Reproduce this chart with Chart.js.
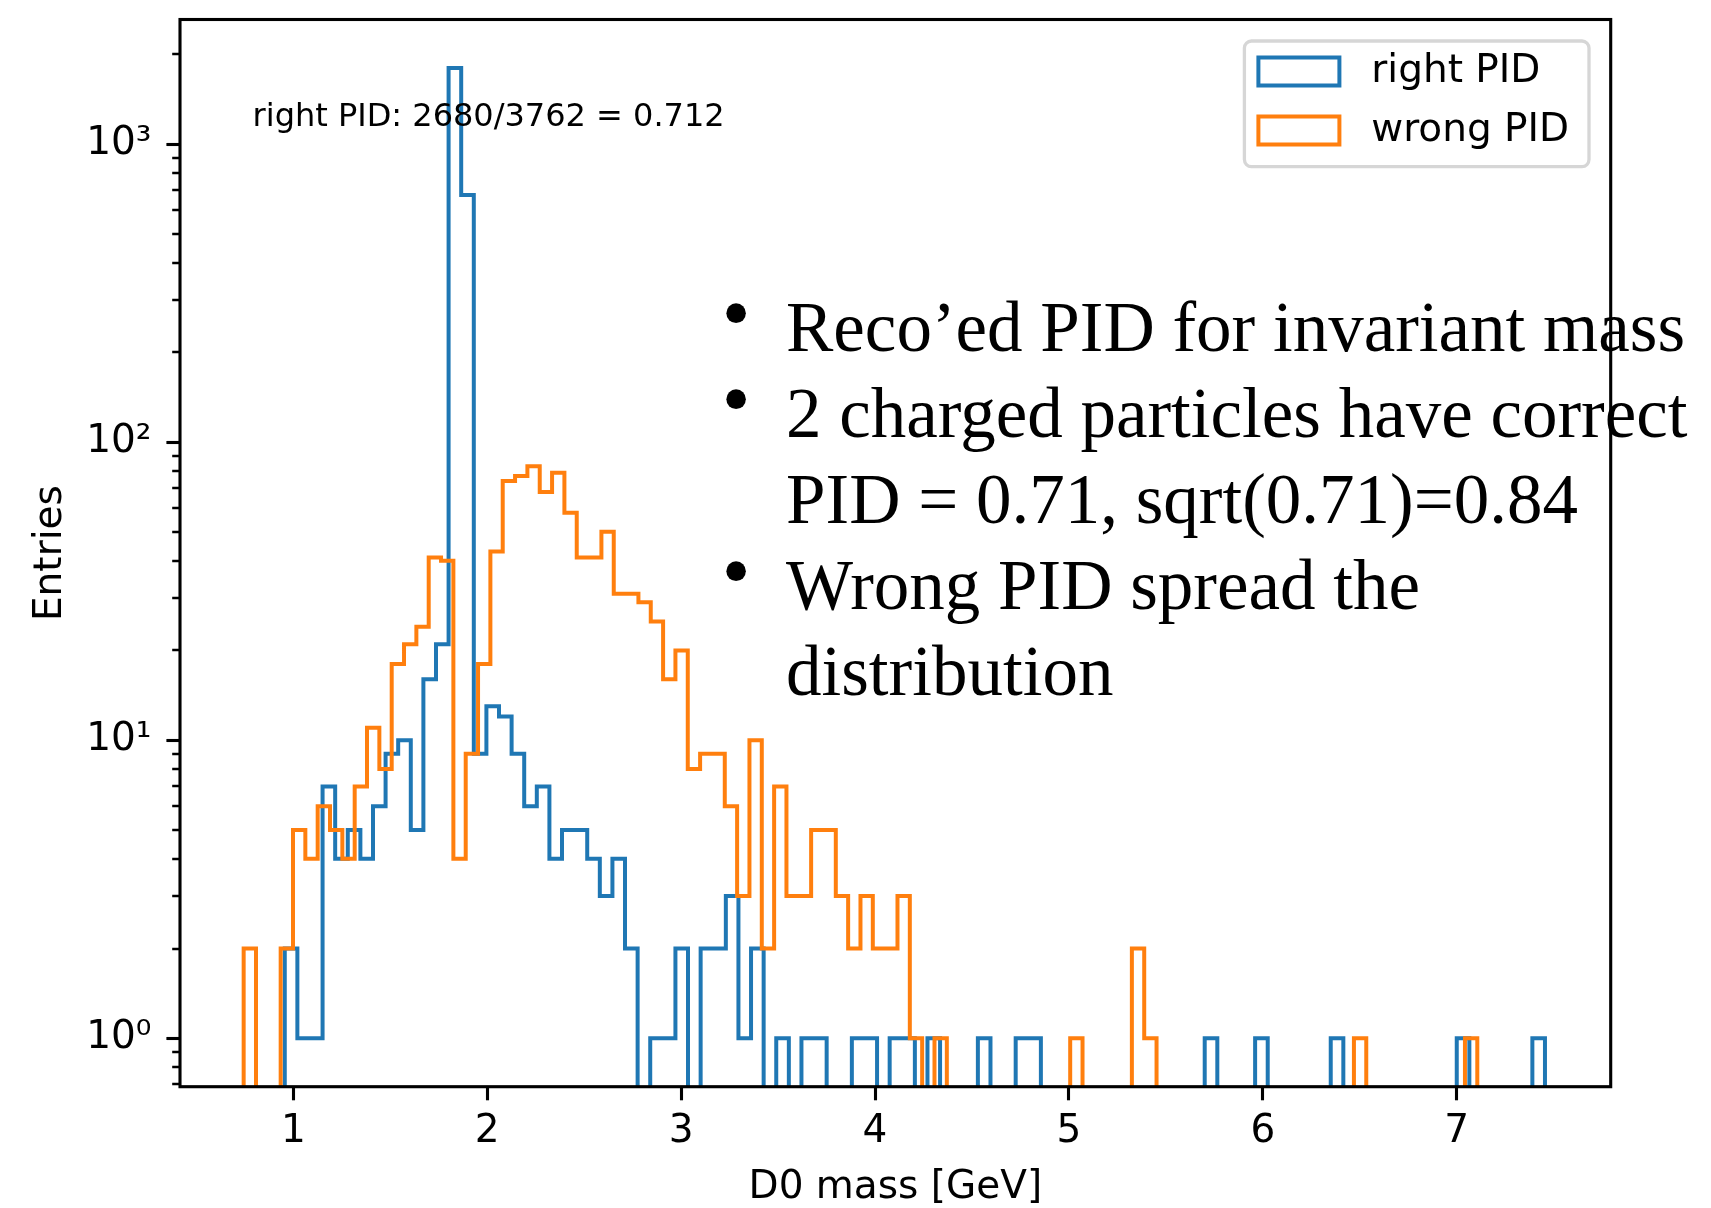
<!DOCTYPE html>
<html>
<head>
<meta charset="utf-8">
<title>D0 mass: right vs wrong PID</title>
<script src="https://cdn.jsdelivr.net/npm/chart.js@4.4.1/dist/chart.umd.min.js"></script>
<style>
  html, body { margin: 0; padding: 0; background: #fff; }
  #wrap { width: 1711px; height: 1208px; }
</style>
</head>
<body>
<div id="wrap"><canvas id="massChart" width="1711" height="1208"></canvas></div>
<script>
// D0 mass histograms (100 bins each), log y axis
const seriesLabels = ['right PID', 'wrong PID'];
const rightRange = [0.956, 7.455];   // first and last bin edge
const wrongRange = [0.744, 7.106];

const rightCounts = [
  2, 1, 1, 7, 4, 5, 4, 6, 9, 10,
  5, 16, 21, 1800, 675, 9, 13, 12, 9, 6,
  7, 4, 5, 5, 4, 3, 4, 2, 0, 1,
  1, 2, 0, 2, 2, 3, 1, 2, 0, 1,
  0, 1, 1, 0, 0, 1, 1, 0, 1, 1,
  0, 1, 0, 0, 0, 1, 0, 0, 1, 1,
  0, 0, 0, 0, 0, 0, 0, 0, 0, 0,
  0, 0, 0, 1, 0, 0, 0, 1, 0, 0,
  0, 0, 0, 1, 0, 0, 0, 0, 0, 0,
  0, 0, 0, 1, 0, 0, 0, 0, 0, 1
];
const wrongCounts = [
  2, 0, 0, 2, 5, 4, 6, 5, 4, 7,
  11, 8, 18, 21, 24, 41, 40, 4, 9, 18,
  43, 74, 77, 83, 68, 79, 58, 41, 41, 50,
  31, 31, 29, 25, 16, 20, 8, 9, 9, 6,
  3, 10, 2, 7, 3, 3, 5, 5, 3, 2,
  3, 2, 2, 3, 1, 0, 1, 0, 0, 0,
  0, 0, 0, 0, 0, 0, 0, 1, 0, 0,
  0, 0, 2, 1, 0, 0, 0, 0, 0, 0,
  0, 0, 0, 0, 0, 0, 0, 0, 0, 0,
  1, 0, 0, 0, 0, 0, 0, 0, 0, 1
];

const xTicks = [1, 2, 3, 4, 5, 6, 7];
const yTicks = [1, 10, 100, 1000];
const yTickLabels = ['10⁰', '10¹', '10²', '10³'];

const ratioText = 'right PID: 2680/3762 = 0.712';
const noteLines = [
  'Reco’ed PID for invariant mass',
  '2 charged particles have correct',
  'PID = 0.71, sqrt(0.71)=0.84',
  'Wrong PID spread the',
  'distribution'
];
const noteBullets = [true, true, false, true, false];

const EMPTY = 0.1; // empty bins: below the axis, so the outline drops to the floor

function stepPoints(range, counts) {
  const w = (range[1] - range[0]) / counts.length;
  const pts = [{x: range[0], y: EMPTY}];
  counts.forEach((c, i) => pts.push({x: range[0] + i * w, y: c > 0 ? c : EMPTY}));
  pts.push({x: range[1], y: EMPTY});
  return pts;
}

// legend frame, spines, minor ticks and the slide notes
const decorations = {
  id: 'decorations',
  afterLayout(chart) {
    const lg = chart.legend, a = chart.chartArea;
    if (!lg) return;
    lg.left = a.right - 372.3; lg.right = lg.left + lg.width;
    lg.top = a.top + 12.5; lg.bottom = lg.top + lg.height;
  },
  beforeDraw(chart) {
    const c = chart.ctx, a = chart.chartArea;
    c.save();
    c.lineWidth = 3.3;
    c.strokeStyle = '#d6d6d6';
    c.fillStyle = 'rgba(255,255,255,0.8)';
    c.beginPath();
    c.roundRect(a.right - 366.3, a.top + 21.5, 344.6, 125.6, 7);
    c.fill();
    c.stroke();
    c.restore();
  },
  afterDatasetsDraw(chart) {
    const c = chart.ctx, a = chart.chartArea, y = chart.scales.y;
    c.save();
    c.strokeStyle = '#000';
    c.lineWidth = 3.1;
    c.lineJoin = 'miter';
    c.strokeRect(a.left, a.top, a.right - a.left, a.bottom - a.top);
    c.lineWidth = 2.3;
    c.beginPath();
    for (let d = -1; d <= 3; d++) {
      for (let m = 2; m <= 9; m++) {
        const v = m * Math.pow(10, d);
        if (v < y.min || v > y.max) continue;
        const py = Math.round(y.getPixelForValue(v));
        c.moveTo(a.left, py);
        c.lineTo(a.left - 7.8, py);
      }
    }
    c.stroke();
    c.restore();
  },
  afterDraw(chart) {
    const c = chart.ctx, xs = chart.scales.x, ys = chart.scales.y;
    c.save();
    c.fillStyle = '#000';
    c.textBaseline = 'alphabetic';
    c.font = '32px "DejaVu Sans"';
    c.fillText(ratioText, xs.getPixelForValue(0.79), ys.getPixelForValue(1150));

    const textX = 786, bulletX = 736, firstBase = 351, pitch = 86;
    noteLines.forEach((line, i) => {
      const base = firstBase + i * pitch;
      c.font = '71px "Liberation Serif"';
      c.textAlign = 'left';
      c.fillText(line, textX, base);
      if (noteBullets[i]) {
        c.font = '82px "Liberation Serif"';
        c.textAlign = 'center';
        c.fillText('•', bulletX, base - 10);
      }
    });
    c.restore();
  }
};

Chart.defaults.font.family = '"DejaVu Sans"';
Chart.defaults.color = '#000';

const tickGrid = {
  drawOnChartArea: false,
  drawTicks: true,
  tickLength: 13.6,
  tickWidth: 3.1,
  tickColor: '#000',
  color: '#000'
};

const ctx = document.getElementById('massChart').getContext('2d');
const massChart = new Chart(ctx, {
  type: 'line',
  data: {
    datasets: [
      {
        label: seriesLabels[0],
        data: stepPoints(rightRange, rightCounts),
        borderColor: '#1f77b4',
        order: 1
      },
      {
        label: seriesLabels[1],
        data: stepPoints(wrongRange, wrongCounts),
        borderColor: '#ff7f0e',
        order: 0
      }
    ]
  },
  options: {
    responsive: false,
    animation: false,
    events: [],
    layout: { padding: { left: 0, top: 19.5, right: 100.3, bottom: 0 } },
    datasets: {
      line: {
        stepped: 'before',
        borderWidth: 4,
        backgroundColor: 'rgba(0,0,0,0)',
        fill: false,
        tension: 0,
        pointRadius: 0,
        borderJoinStyle: 'miter',
        borderCapStyle: 'butt',
        clip: 0
      }
    },
    scales: {
      x: {
        type: 'linear',
        min: 0.4157,
        max: 7.794,
        grid: tickGrid,
        border: { display: false },
        ticks: { font: { size: 39 }, color: '#000', padding: 8, maxRotation: 0, autoSkip: false,
                 callback: v => String(v) },
        title: { display: true, text: 'D0 mass [GeV]', font: { size: 39 }, color: '#000',
                 padding: { top: 0, bottom: -3.5 } },
        afterBuildTicks: s => { s.ticks = xTicks.map(v => ({ value: v })); },
        afterFit: s => { s.height = 121.3; s.paddingLeft = 0; s.paddingRight = 0; }
      },
      y: {
        type: 'logarithmic',
        min: 0.688,
        max: 2617,
        grid: tickGrid,
        border: { display: false },
        ticks: { font: { size: 39 }, color: '#000', padding: 15, autoSkip: false,
                 callback: (v, i) => yTickLabels[i] },
        title: { display: true, text: 'Entries', font: { size: 39 }, color: '#000',
                 padding: { top: 27, bottom: 0 } },
        afterBuildTicks: s => { s.ticks = yTicks.map(v => ({ value: v })); },
        afterFit: s => { s.width = 180; s.paddingTop = 0; s.paddingBottom = 0; }
      }
    },
    plugins: {
      tooltip: { enabled: false },
      legend: {
        position: 'chartArea',
        align: 'start',
        labels: {
          boxWidth: 81,
          boxHeight: 28,
          padding: 20,
          font: { size: 39 },
          color: '#000',
          sort: (a, b) => a.datasetIndex - b.datasetIndex,
          // matplotlib leaves a wider gap between handle and text
          generateLabels: chart => Chart.defaults.plugins.legend.labels.generateLabels(chart)
            .map(item => Object.assign(item, { text: ' ' + item.text }))
        }
      }
    }
  },
  plugins: [decorations]
});
</script>
</body>
</html>
